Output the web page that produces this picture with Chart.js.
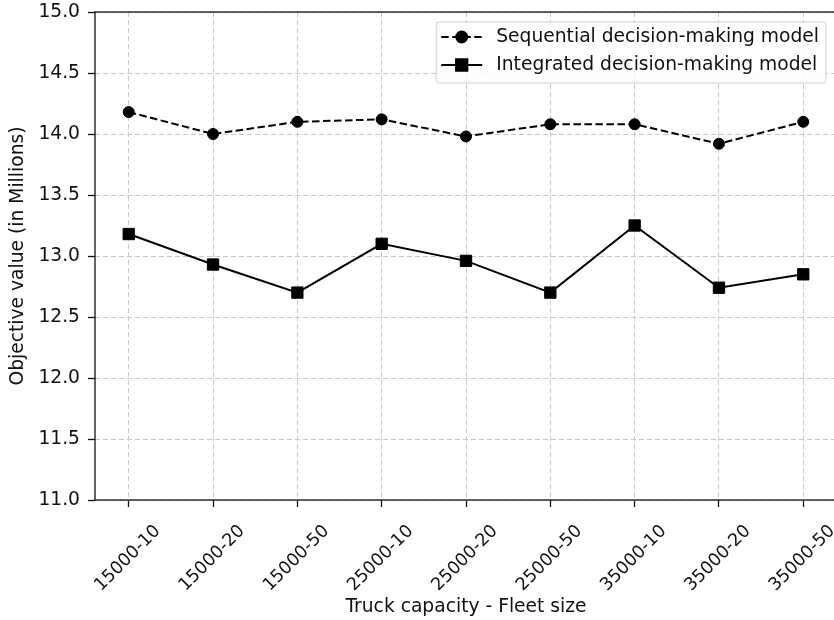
<!DOCTYPE html>
<html>
<head>
<meta charset="utf-8">
<script src="https://cdn.jsdelivr.net/npm/chart.js@4/dist/chart.umd.min.js"></script>
<style>
  html, body { margin: 0; padding: 0; background: #fff; overflow: hidden; }
  #wrap { width: 846px; height: 620px; }
</style>
</head>
<body>
<div id="wrap"><canvas id="chart" width="846" height="620"></canvas></div>
<script>
// Truck capacity - fleet size scenarios
const categories = ['15000-10', '15000-20', '15000-50', '25000-10', '25000-20', '25000-50', '35000-10', '35000-20', '35000-50'];
// Objective values in millions
const sequentialValues = [14.18, 14.00, 14.10, 14.12, 13.98, 14.08, 14.08, 13.92, 14.10];
const integratedValues = [13.18, 12.93, 12.70, 13.10, 12.96, 12.70, 13.25, 12.74, 12.85];
const yTicks = [11.0, 11.5, 12.0, 12.5, 13.0, 13.5, 14.0, 14.5, 15.0];

const FONT = 'DejaVu Sans';
const FONT_SIZE = 18.7;
const X_TICK_SIZE = 17.6;

const toPoints = vals => vals.map((v, i) => ({ x: i, y: v }));

// Box-style legend with line + marker samples
const boxLegend = {
  id: 'boxLegend',
  afterDraw(chart) {
    const { ctx, chartArea } = chart;
    ctx.save();
    ctx.font = FONT_SIZE + 'px "' + FONT + '"';
    const labels = chart.data.datasets.map(d => d.label);
    const textW = Math.max(...labels.map(l => ctx.measureText(l).width));
    const right = 826;
    const top = chartArea.top + 10;
    const width = 5 + 41 + 14 + textW + 7;
    const left = right - width;
    const height = 61;
    // frame
    ctx.beginPath();
    if (ctx.roundRect) ctx.roundRect(left, top, width, height, 3); else ctx.rect(left, top, width, height);
    ctx.fillStyle = 'rgba(255,255,255,0.85)';
    ctx.fill();
    ctx.strokeStyle = '#d0d0d0';
    ctx.lineWidth = 1;
    ctx.stroke();
    chart.data.datasets.forEach((ds, i) => {
      const cy = top + 15 + i * 28;
      const x0 = left + 5, x1 = left + 46;
      ctx.strokeStyle = ds.borderColor;
      ctx.lineWidth = ds.borderWidth;
      ctx.setLineDash(ds.borderDash || []);
      ctx.beginPath();
      ctx.moveTo(x0, cy);
      ctx.lineTo(x1, cy);
      ctx.stroke();
      ctx.setLineDash([]);
      Chart.helpers.drawPoint(ctx, {
        pointStyle: ds.pointStyle,
        radius: ds.pointRadius,
        borderWidth: ds.pointBorderWidth,
        rotation: 0
      }, (x0 + x1) / 2, cy);
      ctx.fillStyle = ds.pointBackgroundColor;
      ctx.fill();
      ctx.fillStyle = '#111';
      ctx.textAlign = 'left';
      ctx.textBaseline = 'middle';
      ctx.fillText(ds.label, left + 60, cy);
    });
    ctx.restore();
  }
};

// Axes frame drawn around the plotting area
const frame = {
  id: 'frame',
  afterDatasetsDraw(chart) {
    const { ctx, chartArea: a } = chart;
    ctx.save();
    ctx.strokeStyle = '#111';
    ctx.lineWidth = 1.3;
    ctx.strokeRect(a.left, a.top, a.right - a.left, a.bottom - a.top);
    ctx.restore();
  }
};

new Chart(document.getElementById('chart'), {
  type: 'line',
  data: {
    datasets: [
      {
        label: 'Sequential decision-making model',
        data: toPoints(sequentialValues),
        borderColor: '#000',
        borderWidth: 2,
        borderDash: [7.5, 3.5],
        pointStyle: 'circle',
        pointRadius: 5.5,
        pointBorderWidth: 1,
        pointBackgroundColor: '#000',
        pointBorderColor: '#000',
        tension: 0
      },
      {
        label: 'Integrated decision-making model',
        data: toPoints(integratedValues),
        borderColor: '#000',
        borderWidth: 2,
        borderDash: [],
        pointStyle: 'rect',
        pointRadius: 8,
        pointBorderWidth: 1,
        pointBackgroundColor: '#000',
        pointBorderColor: '#000',
        tension: 0
      }
    ]
  },
  options: {
    responsive: false,
    animation: false,
    devicePixelRatio: 1,
    layout: { padding: { top: 12, right: 4, left: 0, bottom: 0 } },
    plugins: {
      legend: { display: false },
      tooltip: { enabled: false }
    },
    scales: {
      x: {
        type: 'linear',
        min: -0.4,
        max: categories.length - 1 + 0.4,
        afterBuildTicks: axis => { axis.ticks = categories.map((c, i) => ({ value: i })); },
        afterFit: axis => {
          axis.height = 120;
          axis.paddingLeft = 0;
          axis.paddingRight = 0;
        },
        ticks: {
          autoSkip: false,
          minRotation: 45,
          maxRotation: 45,
          padding: 14,
          labelOffset: 29,
          color: '#111',
          font: { family: FONT, size: X_TICK_SIZE },
          callback: v => categories[v]
        },
        grid: {
          color: '#c8c8c8',
          lineWidth: 1,
          drawTicks: true,
          tickLength: 7,
          tickColor: '#111',
          tickWidth: 1.3,
          tickBorderDash: []
        },
        border: { display: false, dash: [5, 3] },
        title: {
          display: true,
          text: 'Truck capacity - Fleet size',
          color: '#111',
          font: { family: FONT, size: FONT_SIZE },
          padding: { top: 0, bottom: 2 }
        }
      },
      y: {
        min: yTicks[0],
        max: yTicks[yTicks.length - 1],
        afterBuildTicks: axis => { axis.ticks = yTicks.map(v => ({ value: v })); },
        afterFit: axis => {
          axis.width = 95;
          axis.paddingTop = 0;
          axis.paddingBottom = 0;
        },
        ticks: {
          padding: 8,
          color: '#111',
          font: { family: FONT, size: FONT_SIZE },
          callback: v => Number(v).toFixed(1)
        },
        grid: {
          color: '#c8c8c8',
          lineWidth: 1,
          drawTicks: true,
          tickLength: 7,
          tickColor: '#111',
          tickWidth: 1.3,
          tickBorderDash: []
        },
        border: { display: false, dash: [5, 3] },
        title: {
          display: true,
          text: 'Objective value (in Millions)',
          color: '#111',
          font: { family: FONT, size: FONT_SIZE },
          padding: { top: 7, bottom: 0 }
        }
      }
    }
  },
  plugins: [frame, boxLegend]
});
</script>
</body>
</html>
